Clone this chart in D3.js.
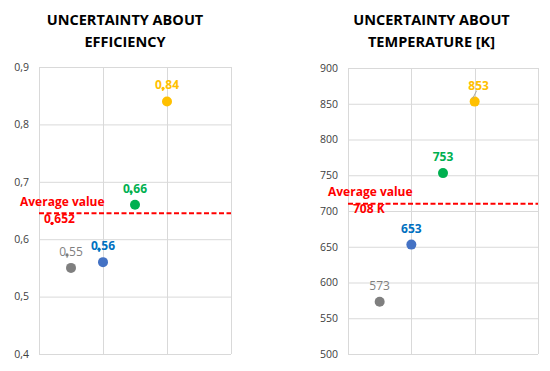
<!DOCTYPE html>
<html><head><meta charset="utf-8">
<script src="https://cdn.jsdelivr.net/npm/d3@7"></script>
<style>body{margin:0;background:#fff}svg{display:block}text{font-family:"Open Sans",sans-serif}</style>
</head><body><svg id="c" width="550" height="371"></svg>
<script>
// ---- data ----
const xPos = [0.5, 1, 1.5, 2];
const effValues = [0.55, 0.56, 0.66, 0.84];
const effLabels = ["0,55", "0,56", "0,66", "0,84"];
const effTicks = [0.4, 0.5, 0.6, 0.7, 0.8, 0.9];
const effTickLabels = ["0,4", "0,5", "0,6", "0,7", "0,8", "0,9"];
const effAverage = 0.645;
const effAverageLabel = "0,652";
const tempValues = [573, 653, 753, 853];
const tempLabels = ["573", "653", "753", "853"];
const tempTicks = [500, 550, 600, 650, 700, 750, 800, 850, 900];
const tempAverage = 710;
const tempAverageLabel = "708 K";
const xGrid = [0, 1, 2, 3];
// ---- style ----
const pointColors = ["#7f7f7f", "#4472c4", "#00b050", "#ffc000"];
const labelColors = ["#7f7f7f", "#0070c0", "#00b050", "#ffc000"];

const svg = d3.select("#c");

function panel(o) {
  const g = svg.append("g");
  const x = d3.scaleLinear().domain([0, 3]).range([o.x0, o.x1]);
  const y = d3.scaleLinear().domain(o.yDomain).range([354, o.yTop]);
  // gridlines
  g.selectAll(".hg").data(o.ticks).join("line")
    .attr("x1", o.x0).attr("x2", o.x1)
    .attr("y1", d => y(d) + 0.5).attr("y2", d => y(d) + 0.5)
    .attr("stroke", "#d9d9d9").attr("stroke-width", 1);
  g.selectAll(".vg").data(xGrid).join("line")
    .attr("x1", d => Math.round(x(d)) + 0.5).attr("x2", d => Math.round(x(d)) + 0.5)
    .attr("y1", y(o.yDomain[0])).attr("y2", y(o.yDomain[1]))
    .attr("stroke", "#d9d9d9").attr("stroke-width", 1);
  // y axis labels
  const ax = d3.axisLeft(y).tickValues(o.ticks).tickSize(0).tickPadding(0)
    .tickFormat((d, i) => o.tickLabels[i]);
  const axg = g.append("g").attr("transform", `translate(${o.tickX},0)`).call(ax);
  axg.select(".domain").remove();
  axg.selectAll("text").attr("font-family", "Open Sans, sans-serif")
    .attr("font-size", 10.5).attr("fill", "#404040");
  // average line
  g.append("line").attr("x1", o.x0).attr("x2", o.x1)
    .attr("y1", y(o.avg)).attr("y2", y(o.avg))
    .attr("stroke", "#ff0000").attr("stroke-width", 2).attr("stroke-dasharray", "5,2.5");
  g.append("text").attr("x", o.avgTextX).attr("y", y(o.avg) + o.avgTextDy)
    .attr("font-size", 12).attr("font-weight", 700).attr("fill", "#ff0000")
    .text("Average value");
  g.append("text").attr("x", o.avgValX).attr("y", y(o.avg) + o.avgValDy)
    .attr("font-size", 12).attr("font-weight", 700).attr("fill", "#ff0000")
    .text(o.avgLabel);
  // points
  g.selectAll(".pt").data(o.values).join("circle")
    .attr("cx", (d, i) => x(xPos[i])).attr("cy", d => y(d)).attr("r", 5)
    .attr("fill", (d, i) => pointColors[i]);
  // labels
  g.selectAll(".lb").data(o.values).join("text")
    .attr("x", (d, i) => x(xPos[i]) + o.labelDx[i]).attr("y", d => y(d) - 12)
    .attr("text-anchor", "middle").attr("font-size", 12).attr("font-weight", (d, i) => i === 0 ? 400 : 700)
    .attr("fill", (d, i) => labelColors[i])
    .text((d, i) => o.labels[i]);
  if (o.dots) {
    g.selectAll(".dt").data(o.values).join("circle")
      .attr("cx", (d, i) => x(xPos[i]) - 4).attr("cy", d => y(d) - 13).attr("r", 1.6)
      .attr("fill", (d, i) => labelColors[i]);
    g.append("circle").attr("cx", o.avgValX + 8).attr("cy", y(o.avg) + 10).attr("r", 1.6).attr("fill", "#ff0000");
  }
  // titles
  o.title.forEach((t, i) => {
    g.append("text").attr("x", o.titleX).attr("y", 25 + i * 22)
      .attr("text-anchor", "middle").attr("font-size", 14.5).attr("font-weight", 700)
      .attr("fill", "#000").text(t);
  });
  return {x, y, g};
}

panel({x0: 39, x1: 231, yDomain: [0.4, 0.9], yTop: 67, ticks: effTicks, tickLabels: effTickLabels,
  tickX: 29, avg: effAverage, avgTextX: 20, avgTextDy: -7, avgValX: 44, avgValDy: 10, avgLabel: effAverageLabel,
  values: effValues, labels: effLabels, labelDx: [0, 0, 0, 0], dots: true,
  title: ["UNCERTAINTY ABOUT", "EFFICIENCY"], titleX: 125});

const p2 = panel({x0: 348, x1: 538, yDomain: [500, 900], yTop: 68, ticks: tempTicks, tickLabels: tempTicks.map(String),
  tickX: 338, avg: tempAverage, avgTextX: 328, avgTextDy: -8, avgValX: 353, avgValDy: 9, avgLabel: tempAverageLabel,
  values: tempValues, labels: tempLabels, labelDx: [0, 0, 0, 4], dots: false,
  title: ["UNCERTAINTY ABOUT", "TEMPERATURE [K]"], titleX: 431.5});
// leader line for top label
p2.g.append("line").attr("x1", p2.x(xPos[3]) + 2).attr("y1", p2.y(tempValues[3]) - 11)
  .attr("x2", p2.x(xPos[3]) - 2).attr("y2", p2.y(tempValues[3]) - 3)
  .attr("stroke", "#a6a6a6").attr("stroke-width", 1);
</script></body></html>
